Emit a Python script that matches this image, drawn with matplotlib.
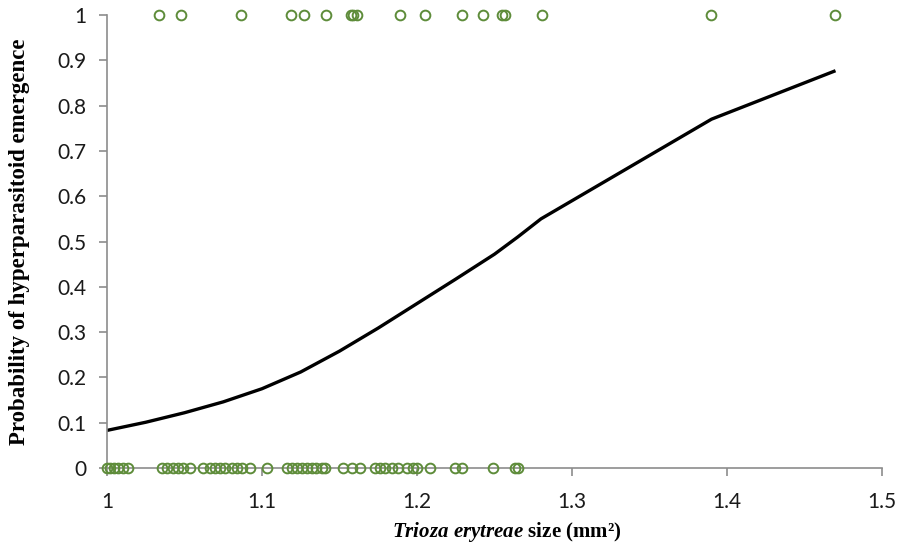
import matplotlib
matplotlib.use("Agg")
import matplotlib.pyplot as plt

# Observed outcomes: hyperparasitoid emerged (1)
size_emerged = [1.0337, 1.0477, 1.0863, 1.1185, 1.1271, 1.1413, 1.1572, 1.1589,
                1.1611, 1.1890, 1.2052, 1.2288, 1.2428, 1.2550, 1.2568, 1.2808,
                1.3895, 1.4697]
# Observed outcomes: no emergence (0)
size_not_emerged = [1.0000, 1.0019, 1.0045, 1.0071, 1.0103, 1.0135, 1.0355, 1.0387,
                    1.0426, 1.0458, 1.0490, 1.0535, 1.0619, 1.0665, 1.0697, 1.0729,
                    1.0761, 1.0806, 1.0839, 1.0871, 1.0923, 1.1032, 1.1161, 1.1194,
                    1.1226, 1.1258, 1.1290, 1.1323, 1.1348, 1.1387, 1.1406, 1.1523,
                    1.1581, 1.1632, 1.1729, 1.1761, 1.1794, 1.1839, 1.1877, 1.1935,
                    1.1974, 1.2000, 1.2084, 1.2245, 1.2290, 1.2490, 1.2632, 1.2652]
# Fitted probability curve
curve_x = [1.000, 1.025, 1.050, 1.075, 1.100, 1.125, 1.150, 1.175, 1.200,
           1.225, 1.250, 1.265, 1.280, 1.390, 1.470]
curve_y = [0.083, 0.101, 0.122, 0.146, 0.175, 0.212, 0.258, 0.309, 0.363,
           0.417, 0.472, 0.510, 0.550, 0.770, 0.877]

x_ticks = [1, 1.1, 1.2, 1.3, 1.4, 1.5]
x_tick_labels = ["1", "1.1", "1.2", "1.3", "1.4", "1.5"]
y_ticks = [0, 0.1, 0.2, 0.3, 0.4, 0.5, 0.6, 0.7, 0.8, 0.9, 1]
y_tick_labels = ["0", "0.1", "0.2", "0.3", "0.4", "0.5", "0.6", "0.7", "0.8", "0.9", "1"]

plt.rcParams['mathtext.fontset'] = 'custom'
plt.rcParams['mathtext.rm'] = 'Liberation Serif:bold'
plt.rcParams['mathtext.it'] = 'Liberation Serif:italic:bold'
plt.rcParams['mathtext.bf'] = 'Liberation Serif:bold'

W, H = 902, 548
fig = plt.figure(figsize=(W / 100, H / 100), dpi=100)
ax = fig.add_axes([107 / W, 1 - 468 / H, (882 - 107) / W, (468 - 15) / H])

green = "#5E8C3A"
gray = "#8C8C8C"

ax.plot(size_not_emerged, [0] * len(size_not_emerged), linestyle="none", marker="o",
        markersize=7, markerfacecolor="none", markeredgecolor=green, markeredgewidth=1.4,
        clip_on=False, zorder=3)
ax.plot(size_emerged, [1] * len(size_emerged), linestyle="none", marker="o",
        markersize=7, markerfacecolor="none", markeredgecolor=green, markeredgewidth=1.4,
        clip_on=False, zorder=3)
ax.plot(curve_x, curve_y, color="black", linewidth=2.4, solid_capstyle="butt",
        solid_joinstyle="round", zorder=2)

ax.set_xlim(1, 1.5)
ax.set_ylim(0, 1)
ax.set_xticks(x_ticks)
ax.set_xticklabels(x_tick_labels)
ax.set_yticks(y_ticks)
ax.set_yticklabels(y_tick_labels)

for s in ["top", "right"]:
    ax.spines[s].set_visible(False)
for s in ["left", "bottom"]:
    ax.spines[s].set_color(gray)
    ax.spines[s].set_linewidth(1.2)

ax.tick_params(axis="both", direction="out", length=6, width=1.2, color=gray,
               labelsize=15)
for lab in ax.get_xticklabels() + ax.get_yticklabels():
    lab.set_fontfamily("Lato")
    lab.set_color("#1a1a1a")
ax.tick_params(axis="y", pad=9)
ax.tick_params(axis="x", pad=11)

ax.set_ylabel("Probability of hyperparasitoid emergence", fontfamily="Liberation Serif",
              fontweight="bold", fontsize=16.5)
ax.yaxis.set_label_coords(-77 / (882 - 107), 0.5)
ax.set_xlabel(r"$\mathit{Trioza\ erytreae}$ size (mm²)", fontfamily="Liberation Serif",
              fontweight="bold", fontsize=15)
ax.xaxis.set_label_coords(0.5 + 12 / (882 - 107), -(520 - 468) / (468 - 15))

fig.savefig("out.png", dpi=100)
